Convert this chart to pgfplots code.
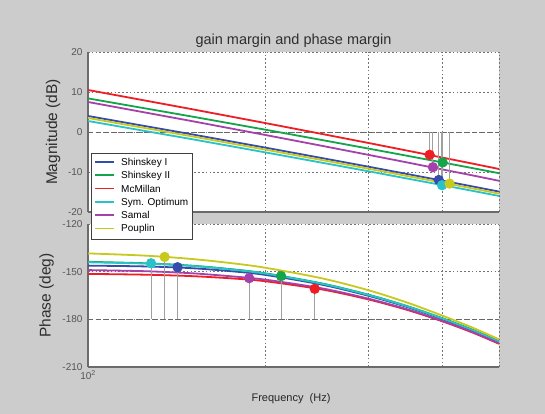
\documentclass[border=0pt]{standalone}
\usepackage{pgfplots}
\pgfplotsset{compat=1.18}
\usepackage{fontspec}
\setmainfont{Liberation Sans}

\definecolor{cBlue}{RGB}{55,75,170}
\definecolor{cGreen}{RGB}{20,165,75}
\definecolor{cRed}{RGB}{238,30,36}
\definecolor{cCyan}{RGB}{40,195,200}
\definecolor{cPurple}{RGB}{165,65,170}
\definecolor{cYellow}{RGB}{200,200,30}
\definecolor{figbg}{RGB}{204,204,204}
\definecolor{tickgray}{RGB}{85,85,85}
\definecolor{stemgray}{RGB}{160,160,160}

\pgfplotsset{
  StemLine/.style={stemgray, line width=1.1pt, forget plot},
  GmDot/.style={only marks, mark=*, mark size=4.2pt, forget plot, mark options={draw=#1, fill=#1}},
  RefLine/.style={black!60, line width=0.9pt, dash pattern=on 5pt off 3pt, forget plot},
}
% legend key: a coloured rule in front of the name
\newcommand{\key}[2]{\textcolor{#1}{\rule[2.6pt]{19pt}{1.8pt}}\hspace{7pt}#2}

\begin{document}
\begin{tikzpicture}
\fill[figbg] (0pt,0pt) rectangle (545pt,414pt);

% phase
\begin{axis}[scale only axis, width=411pt, height=143pt,
  at={(88pt,47pt)}, anchor=south west,
  xmode=log, xmin=100, xmax=500,
  xtick={100,200,300,400,500},
  xticklabels={10\textsuperscript{2},,,,},
  ymin=-210, ymax=-120, ytick={-210,-180,-150,-120},
  yticklabels={-210,-180,-150,-120},
  axis background/.style={fill=white},
  grid=major,
  major grid style={black!55, line width=0.7pt, dash pattern=on 1.6pt off 2.2pt},
  major tick length=0pt, minor tick length=0pt,
  axis x line*=bottom, axis y line*=left,
  axis line style={-, draw=black!58, line width=1.1pt},
  ticklabel style={font=\fontsize{10}{12}\selectfont, text=tickgray},
  yticklabel style={xshift=-2pt},
  every axis plot/.append style={line width=1.8pt}]
\addplot[RefLine] coordinates {(100,-180) (500,-180)};
\addplot[cBlue, smooth] coordinates {(100,-146.2) (125,-146.7) (150,-147.8) (175,-149.7) (200,-152.0) (250,-158.2) (300,-165.2) (350,-172.4) (400,-179.8) (450,-187.1) (500,-194.5)};
\addplot[cGreen, smooth] coordinates {(100,-143.8) (125,-144.7) (150,-146.2) (175,-148.4) (200,-151.0) (250,-157.4) (300,-164.5) (350,-171.8) (400,-179.2) (450,-186.4) (500,-193.8)};
\addplot[cRed, smooth] coordinates {(100,-151.4) (125,-151.9) (150,-152.8) (175,-154.2) (200,-156.0) (250,-161.2) (300,-167.5) (350,-174.2) (400,-181.2) (450,-188.2) (500,-195.4)};
\addplot[cCyan, smooth] coordinates {(100,-144.1) (125,-144.9) (150,-146.4) (175,-148.6) (200,-151.2) (250,-157.6) (300,-164.7) (350,-172.0) (400,-179.4) (450,-186.7) (500,-194.1)};
\addplot[cPurple, smooth] coordinates {(100,-149.0) (125,-149.7) (150,-151.0) (175,-152.9) (200,-155.0) (250,-160.5) (300,-167.0) (350,-173.8) (400,-180.9) (450,-187.9) (500,-195.1)};
\addplot[cYellow, smooth] coordinates {(100,-138.5) (125,-139.9) (150,-142.0) (175,-144.6) (200,-147.5) (250,-154.2) (300,-161.7) (350,-169.6) (400,-177.6) (450,-185.1) (500,-192.6)};
% phase margin stems and points
\addplot[StemLine] coordinates {(142,-180) (142,-147.2)};
\addplot[StemLine] coordinates {(213,-180) (213,-152.8)};
\addplot[StemLine] coordinates {(243,-180) (243,-160.8)};
\addplot[StemLine] coordinates {(128,-180) (128,-144.7)};
\addplot[StemLine] coordinates {(188,-180) (188,-154.1)};
\addplot[StemLine] coordinates {(135,-180) (135,-140.7)};
\addplot[GmDot=cBlue] coordinates {(142,-147.2)};
\addplot[GmDot=cGreen] coordinates {(213,-152.8)};
\addplot[GmDot=cRed] coordinates {(243,-160.8)};
\addplot[GmDot=cCyan] coordinates {(128,-144.7)};
\addplot[GmDot=cPurple] coordinates {(188,-154.1)};
\addplot[GmDot=cYellow] coordinates {(135,-140.7)};
\end{axis}

% magnitude
\begin{axis}[scale only axis, width=411pt, height=160pt,
  at={(88pt,202pt)}, anchor=south west,
  xmode=log, xmin=100, xmax=500,
  xtick={100,200,300,400,500}, xticklabels={},
  ymin=-20, ymax=20, ytick={-20,-10,0,10,20},
  yticklabels={-20,-10,0,10,20},
  axis background/.style={fill=white},
  grid=major,
  major grid style={black!55, line width=0.7pt, dash pattern=on 1.6pt off 2.2pt},
  major tick length=0pt, minor tick length=0pt,
  axis x line*=bottom, axis y line*=left,
  axis line style={-, draw=black!58, line width=1.1pt},
  ticklabel style={font=\fontsize{10}{12}\selectfont, text=tickgray},
  yticklabel style={xshift=-2pt},
  every axis plot/.append style={line width=1.8pt},
  legend cell align=left,
  legend style={at={(0.0073,0.369)}, anchor=north west,
    draw=black!75, fill=white,
    font=\fontsize{10}{12}\selectfont,
    inner xsep=2.5pt, inner ysep=3pt, row sep=0pt,
    nodes={inner sep=1.5pt, text height=7.8pt, text depth=2.5pt}}]
\addlegendimage{empty legend}
\addlegendentry{\key{cBlue}{Shinskey I}}
\addlegendimage{empty legend}
\addlegendentry{\key{cGreen}{Shinskey II}}
\addlegendimage{empty legend}
\addlegendentry{\key{cRed}{McMillan}}
\addlegendimage{empty legend}
\addlegendentry{\key{cCyan}{Sym. Optimum}\hspace{8pt}}
\addlegendimage{empty legend}
\addlegendentry{\key{cPurple}{Samal}}
\addlegendimage{empty legend}
\addlegendentry{\key{cYellow}{Pouplin}}
\addplot[RefLine] coordinates {(100,0) (500,0)};
\addplot[cBlue, forget plot] coordinates {(100,4.0) (150,-0.57) (200,-3.89) (250,-6.52) (300,-8.68) (350,-10.54) (400,-12.15) (450,-13.59) (500,-14.9)};
\addplot[cGreen, forget plot] coordinates {(100,8.4) (150,3.88) (200,0.59) (250,-2.01) (300,-4.15) (350,-5.98) (400,-7.59) (450,-9.01) (500,-10.3)};
\addplot[cRed, forget plot] coordinates {(100,10.5) (150,5.72) (200,2.25) (250,-0.49) (300,-2.75) (350,-4.69) (400,-6.38) (450,-7.88) (500,-9.25)};
\addplot[cCyan, forget plot] coordinates {(100,2.75) (150,-1.78) (200,-5.08) (250,-7.68) (300,-9.82) (350,-11.67) (400,-13.27) (450,-14.69) (500,-15.99)};
\addplot[cPurple, forget plot] coordinates {(100,7.5) (150,2.74) (200,-0.73) (250,-3.46) (300,-5.72) (350,-7.65) (400,-9.34) (450,-10.83) (500,-12.2)};
\addplot[cYellow, forget plot] coordinates {(100,3.5) (150,-1.07) (200,-4.39) (250,-7.02) (300,-9.18) (350,-11.04) (400,-12.65) (450,-14.09) (500,-15.4)};
% gain margin stems and points
\addplot[StemLine] coordinates {(395,0) (395,-12.0)};
\addplot[StemLine] coordinates {(401,0) (401,-7.6)};
\addplot[StemLine] coordinates {(381,0) (381,-5.7)};
\addplot[StemLine] coordinates {(400,0) (400,-13.3)};
\addplot[StemLine] coordinates {(386,0) (386,-8.8)};
\addplot[StemLine] coordinates {(412,0) (412,-12.9)};
\addplot[GmDot=cBlue] coordinates {(395,-12.0)};
\addplot[GmDot=cGreen] coordinates {(401,-7.6)};
\addplot[GmDot=cRed] coordinates {(381,-5.7)};
\addplot[GmDot=cCyan] coordinates {(400,-13.3)};
\addplot[GmDot=cPurple] coordinates {(386,-8.8)};
\addplot[GmDot=cYellow] coordinates {(412,-12.9)};
\end{axis}

\node[font=\fontsize{14.5}{17}\selectfont, text=black!82] at (293.5pt,373pt) {gain margin and phase margin};
\node[font=\fontsize{15.5}{18}\selectfont, text=black!82, rotate=90] at (53pt,282pt) {Magnitude (dB)};
\node[font=\fontsize{15.5}{18}\selectfont, text=black!82, rotate=90] at (46.5pt,118.5pt) {Phase (deg)};
\node[font=\fontsize{11}{13}\selectfont, text=black!85] at (291pt,15pt) {Frequency\ \ (Hz)};
\end{tikzpicture}
\end{document}
